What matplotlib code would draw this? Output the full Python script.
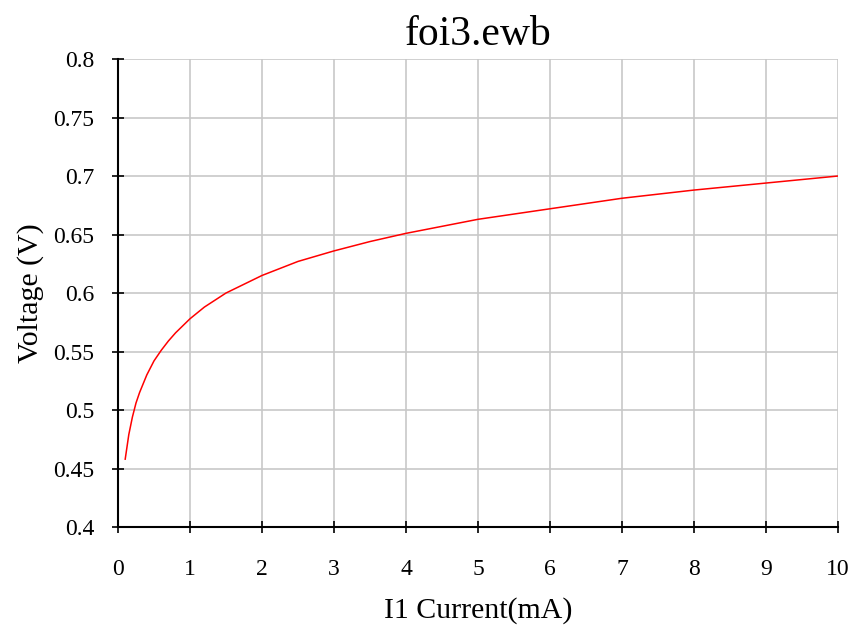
import numpy as np
import matplotlib
matplotlib.use("Agg")
import matplotlib.pyplot as plt

# Valores (corriente en mA, tensión en V)
corriente = [0.1, 0.15, 0.2, 0.25, 0.3, 0.4, 0.5, 0.6, 0.7, 0.8, 1.0, 1.2, 1.5, 2.0, 2.5, 3.0,
             3.5, 4.0, 4.5, 5.0, 6.0, 7.0, 8.0, 9.0, 10.0]
tension = [0.458, 0.479, 0.494, 0.506, 0.515, 0.530, 0.542, 0.551, 0.559, 0.566, 0.578, 0.588,
           0.600, 0.615, 0.627, 0.636, 0.644, 0.651, 0.657, 0.663, 0.672, 0.681, 0.688, 0.694, 0.700]

x_ticks = np.arange(0, 11, 1)
y_ticks = [0.4, 0.45, 0.5, 0.55, 0.6, 0.65, 0.7, 0.75, 0.8]
y_labels = ["0.4", "0.45", "0.5", "0.55", "0.6", "0.65", "0.7", "0.75", "0.8"]

plt.rcParams['font.family'] = ['Liberation Serif', 'DejaVu Serif']

fig = plt.figure(figsize=(8.52, 6.28), dpi=100)
ax = fig.add_axes([0.1385, 0.1608, 0.845, 0.7452])

ax.plot(corriente, tension, color='red', linewidth=1.1)

ax.set_xlim(0, 10)
ax.set_ylim(0.4, 0.8)
ax.set_xticks(x_ticks)
ax.set_yticks(y_ticks)
ax.set_yticklabels(y_labels)

# Grilla gris y solo ejes izquierdo e inferior
ax.grid(True, color='#c8c8c8', linewidth=1.2)
ax.set_axisbelow(True)
for lado in ['top', 'right']:
    ax.spines[lado].set_visible(False)
for lado in ['left', 'bottom']:
    ax.spines[lado].set_linewidth(1.5)
ax.tick_params(direction='inout', length=8, width=1.2, labelsize=17)
ax.tick_params(axis='x', pad=19)
ax.tick_params(axis='y', pad=13)

ax.set_title("foi3.ewb", fontsize=30, pad=10)
ax.set_xlabel("I1 Current(mA)", fontsize=21.5, labelpad=12)
ax.set_ylabel("Voltage (V)", fontsize=21.5, labelpad=7)

fig.savefig("out.png", dpi=100)
